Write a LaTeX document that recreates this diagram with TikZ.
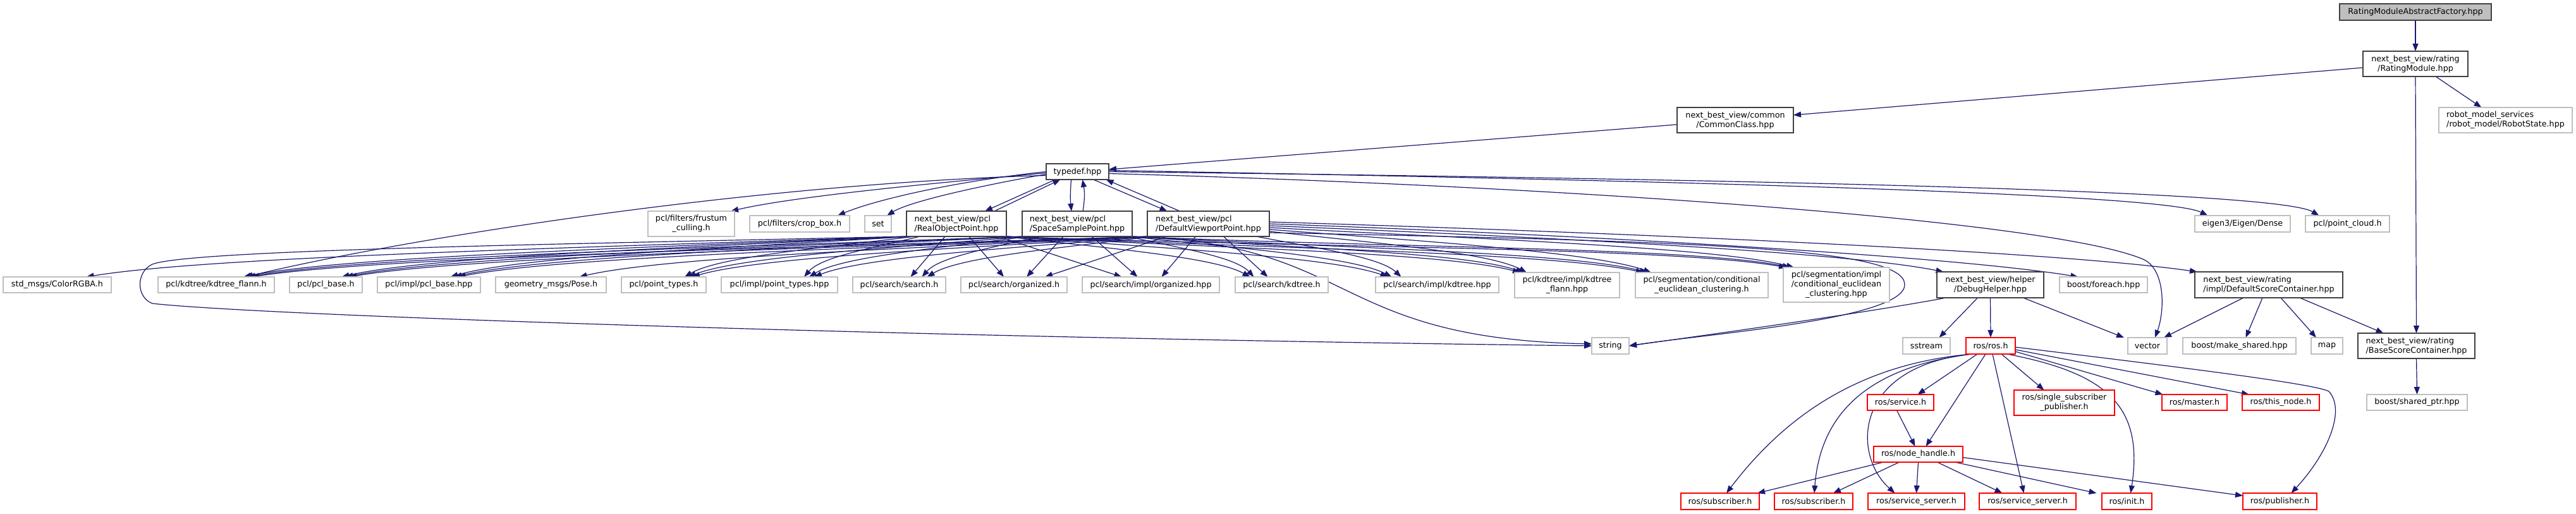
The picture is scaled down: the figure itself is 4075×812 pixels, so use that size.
\documentclass[tikz,border=0pt]{standalone}
\usepackage{fontspec}
\setmainfont{DejaVu Sans}
\usetikzlibrary{arrows.meta,calc}
\definecolor{edgec}{HTML}{191970}
\definecolor{extb}{HTML}{BFBFBF}
\definecolor{projb}{HTML}{404040}
\definecolor{redb}{HTML}{FF0000}
\pgfdeclarelayer{back}
\pgfdeclarelayer{edges}
\pgfsetlayers{back,edges,main}
\tikzset{
 box/.style={inner sep=0pt, outer sep=0pt, align=center, font=\fontsize{12.7}{15}\selectfont, line width=1.4pt},
 proj/.style={box, draw=projb, fill=white},
 ext/.style={box, draw=extb, fill=white},
 rosn/.style={box, draw=redb, fill=white},
 root/.style={box, draw=projb, fill=extb},
 edge/.style={draw=edgec, line width=1.2pt, -{Triangle[length=12pt,width=9pt]}},
}
\newcommand\mynode[7]{\node[#1, minimum width={#4-#2}, minimum height={#5-#3}] (#6) at ({(#2+#4)/2},{(#3+#5)/2}) {#7};}
\newcommand\mycurve[2]{\draw[edge] let \p1=#1, \p2=#2 in #1 .. controls ({\x1+0.4*(\x2-\x1)},{\y1-18pt}) and ({\x2-0.15*(\x2-\x1)},{\y2+32pt}) .. #2;}
\begin{document}
\begin{tikzpicture}[x=1pt,y=-1pt]
\begin{pgfonlayer}{back}
\fill[white] (0,0) rectangle (4075,812);
\end{pgfonlayer}
\useasboundingbox (0,0) rectangle (4075,812);
% top
\mynode{root}{3701}{6}{3941}{32}{fac}{RatingModuleAbstractFactory.hpp}
\mynode{proj}{3738}{81}{3904}{121}{rm}{next\_best\_view/rating\\/RatingModule.hpp}
\mynode{ext,align=left}{3858}{170}{4069}{210}{rs}{robot\_model\_services\\/robot\_model/RobotState.hpp}
\mynode{proj}{2653}{170}{2837}{210}{cc}{next\_best\_view/common\\/CommonClass.hpp}
\mynode{proj}{1655}{259}{1754}{284}{td}{typedef.hpp}
\mynode{proj,align=left}{1434}{334}{1592}{374}{R}{next\_best\_view/pcl\\/RealObjectPoint.hpp}
\mynode{proj,align=left}{1617}{334}{1791}{374}{S}{next\_best\_view/pcl\\/SpaceSamplePoint.hpp}
\mynode{proj,align=left}{1815}{334}{2008}{374}{D}{next\_best\_view/pcl\\/DefaultViewportPoint.hpp}
\mynode{ext}{1025}{334}{1162}{374}{fru}{pcl/filters/frustum\\\_culling.h}
\mynode{ext}{1186}{341}{1344}{367}{crop}{pcl/filters/crop\_box.h}
\mynode{ext}{1368}{341}{1410}{367}{set}{set}
\mynode{ext}{3472}{341}{3623}{367}{eig}{eigen3/Eigen/Dense}
\mynode{ext}{3647}{341}{3780}{367}{pcd}{pcl/point\_cloud.h}
% row 2
\mynode{ext}{5}{438}{176}{463}{std}{std\_msgs/ColorRGBA.h}
\mynode{ext}{250}{438}{434}{463}{kf}{pcl/kdtree/kdtree\_flann.h}
\mynode{ext}{458}{438}{573}{463}{pb}{pcl/pcl\_base.h}
\mynode{ext}{597}{438}{760}{463}{pbh}{pcl/impl/pcl\_base.hpp}
\mynode{ext}{784}{438}{959}{463}{pose}{geometry\_msgs/Pose.h}
\mynode{ext}{983}{438}{1117}{463}{pt}{pcl/point\_types.h}
\mynode{ext}{1141}{438}{1325}{463}{pth}{pcl/impl/point\_types.hpp}
\mynode{ext}{1349}{438}{1496}{463}{ss}{pcl/search/search.h}
\mynode{ext}{1520}{438}{1688}{463}{org}{pcl/search/organized.h}
\mynode{ext}{1712}{438}{1929}{463}{orgh}{pcl/search/impl/organized.hpp}
\mynode{ext}{1954}{438}{2101}{463}{kd}{pcl/search/kdtree.h}
\mynode{ext}{2176}{438}{2371}{463}{kdh}{pcl/search/impl/kdtree.hpp}
\mynode{ext}{2396}{431}{2562}{471}{kfh}{pcl/kdtree/impl/kdtree\\\_flann.hpp}
\mynode{ext}{2587}{431}{2797}{471}{ce}{pcl/segmentation/conditional\\\_euclidean\_clustering.h}
\mynode{ext}{2821}{423}{2989}{478}{ceh}{pcl/segmentation/impl\\/conditional\_euclidean\\\_clustering.hpp}
\mynode{proj}{3064}{430}{3233}{471}{dh}{next\_best\_view/helper\\/DebugHelper.hpp}
\mynode{ext}{3258}{438}{3397}{463}{fe}{boost/foreach.hpp}
\mynode{proj,align=left}{3472}{430}{3706}{471}{dsc}{next\_best\_view/rating\\/impl/DefaultScoreContainer.hpp}
% row 3
\mynode{ext}{2518}{534}{2577}{560}{str}{string}
\mynode{ext}{3010}{534}{3085}{560}{sst}{sstream}
\mynode{rosn}{3110}{534}{3188}{560}{ros}{ros/ros.h}
\mynode{ext}{3366}{534}{3428}{560}{vec}{vector}
\mynode{ext}{3453}{534}{3632}{560}{mks}{boost/make\_shared.hpp}
\mynode{ext}{3656}{534}{3706}{560}{map}{map}
\mynode{proj,align=left}{3730}{527}{3915}{567}{bsc}{next\_best\_view/rating\\/BaseScoreContainer.hpp}
% row 4
\mynode{rosn}{2954}{624}{3059}{649}{srv}{ros/service.h}
\mynode{rosn}{3186}{617}{3345}{657}{ssp}{ros/single\_subscriber\\\_publisher.h}
\mynode{rosn}{3420}{624}{3523}{649}{mst}{ros/master.h}
\mynode{rosn}{3547}{624}{3669}{649}{tn}{ros/this\_node.h}
\mynode{ext}{3744}{624}{3903}{649}{sp}{boost/shared\_ptr.hpp}
\mynode{rosn}{2964}{706}{3105}{731}{nh}{ros/node\_handle.h}
% row 5
\mynode{rosn}{2659}{780}{2783}{806}{subA}{ros/subscriber.h}
\mynode{rosn}{2807}{780}{2931}{806}{subB}{ros/subscriber.h}
\mynode{rosn}{2955}{780}{3108}{806}{svsA}{ros/service\_server.h}
\mynode{rosn}{3131}{780}{3284}{806}{svsB}{ros/service\_server.h}
\mynode{rosn}{3325}{780}{3404}{806}{ini}{ros/init.h}
\mynode{rosn}{3548}{780}{3665}{806}{pub}{ros/publisher.h}

\begin{pgfonlayer}{edges}
% top
\draw[edge] (fac.south) -- (rm.north);
\draw[edge] ([yshift=-6pt]rm.west) -- ([yshift=8pt]cc.east);
\draw[edge] ([xshift=32pt]rm.south) -- ([xshift=-38pt]rs.north);
\draw[edge] (rm.south) -- (bsc.north);
\draw[edge] ([yshift=-7pt]cc.west) -- ([yshift=3.5pt]td.east);
% typedef
\draw[edge] ([yshift=-6pt]td.west) .. controls (1200,290) and (650,375) .. ([xshift=46pt]kf.north);
\draw[edge] ([yshift=-2pt]td.west) .. controls (1450,292) and (1250,312) .. ([xshift=-6pt]fru.north east);
\draw[edge] (td.west) .. controls (1500,288) and (1380,318) .. ([xshift=60pt]crop.north);
\draw[edge] ([yshift=-4pt]td.west) .. controls (1560,292) and (1440,318) .. ([xshift=14pt]set.north);
\draw[edge] ([xshift=-35pt]td.south) -- ([xshift=45pt]R.north);
\draw[edge] ([xshift=60pt]R.north) -- ([xshift=-27pt]td.south);
\draw[edge] ([xshift=-10pt]td.south) .. controls (1693,305) and (1693,315) .. ([xshift=-9pt]S.north);
\draw[edge] ([xshift=9pt]S.north) .. controls (1716,315) and (1716,305) .. ([xshift=8pt]td.south);
\draw[edge] ([xshift=25pt]td.south) -- ([xshift=-65pt]D.north);
\draw[edge] ([xshift=-45pt]D.north) -- ([xshift=45pt]td.south);
\draw[edge] ([yshift=2pt]td.east) .. controls (2600,285) and (3420,305) .. ([xshift=-55pt]eig.north);
\draw[edge] (td.east) .. controls (2700,283) and (3600,300) .. ([xshift=-45pt]pcd.north);
\draw[edge] ([yshift=-3pt]td.east) .. controls (2500,295) and (3250,350) .. (3390,410) .. controls (3425,425) and (3425,490) .. ([xshift=12pt]vec.north);
% RealObjectPoint
\mycurve{([xshift=-78pt]R.south)}{([xshift=46pt]std.north)}
\mycurve{([xshift=-76pt]R.south)}{([xshift=43pt]kf.north)}
\mycurve{([xshift=-73pt]R.south)}{([xshift=25pt]pb.north)}
\mycurve{([xshift=-70pt]R.south)}{([xshift=34pt]pbh.north)}
\mycurve{([xshift=-66pt]R.south)}{([xshift=33pt]pt.north)}
\mycurve{([xshift=-58pt]R.south)}{([xshift=39pt]pth.north)}
\draw[edge] ([xshift=-18pt]R.south) -- ([xshift=18pt]ss.north);
\draw[edge] ([xshift=20pt]R.south) -- ([xshift=-16pt]org.north);
\draw[edge] ([xshift=66pt]R.south) -- ([xshift=-46pt]orgh.north);
\mycurve{([xshift=76pt]R.south)}{([xshift=-50pt]kd.north)}
\mycurve{([xshift=77pt]R.south)}{([xshift=-78pt]kdh.north)}
\mycurve{([xshift=78pt]R.south)}{([xshift=-74pt]kfh.north)}
\mycurve{([xshift=78pt]R.south)}{([xshift=-92pt]ce.north)}
\mycurve{([xshift=78pt]R.south)}{([xshift=-79pt]ceh.north)}
\draw[edge] ([xshift=-79pt]R.south) .. controls (900,386) and (300,395) .. (241,418) .. controls (215,430) and (215,470) .. (241,480) .. controls (420,500) and (1500,535) .. (str.west);
% SpaceSamplePoint
\mycurve{([xshift=-86pt]S.south)}{([xshift=50pt]kf.north)}
\mycurve{([xshift=-84pt]S.south)}{([xshift=31pt]pb.north)}
\mycurve{([xshift=-82pt]S.south)}{([xshift=40pt]pbh.north)}
\mycurve{([xshift=-80pt]S.south)}{([xshift=39pt]pt.north)}
\mycurve{([xshift=-77pt]S.south)}{([xshift=47pt]pth.north)}
\mycurve{([xshift=-60pt]S.south)}{([xshift=36pt]ss.north)}
\draw[edge] ([xshift=-22pt]S.south) -- ([xshift=20pt]org.north);
\draw[edge] ([xshift=23pt]S.south) -- ([xshift=-21pt]orgh.north);
\mycurve{([xshift=80pt]S.south)}{([xshift=-44pt]kd.north)}
\mycurve{([xshift=82pt]S.south)}{([xshift=-72pt]kdh.north)}
\mycurve{([xshift=84pt]S.south)}{([xshift=-69pt]kfh.north)}
\mycurve{([xshift=85pt]S.south)}{([xshift=-86pt]ce.north)}
\mycurve{([xshift=86pt]S.south)}{([xshift=-73pt]ceh.north)}
\draw[edge] ([xshift=84pt]S.south) .. controls (2150,385) and (2100,535) .. ([yshift=3pt]str.west);
% DefaultViewportPoint
\mycurve{([xshift=-95pt]D.south)}{([xshift=56pt]kf.north)}
\mycurve{([xshift=-94pt]D.south)}{([xshift=37pt]pb.north)}
\mycurve{([xshift=-93pt]D.south)}{([xshift=46pt]pbh.north)}
\mycurve{([xshift=-92pt]D.south)}{([xshift=45pt]pose.north)}
\mycurve{([xshift=-91pt]D.south)}{([xshift=45pt]pt.north)}
\mycurve{([xshift=-90pt]D.south)}{([xshift=55pt]pth.north)}
\mycurve{([xshift=-88pt]D.south)}{([xshift=44pt]ss.north)}
\draw[edge] ([xshift=-66pt]D.south) -- ([xshift=49pt]org.north);
\draw[edge] ([xshift=-20pt]D.south) -- ([xshift=17pt]orgh.north);
\draw[edge] ([xshift=24pt]D.south) -- ([xshift=-22pt]kd.north);
\mycurve{([xshift=76pt]D.south)}{([xshift=-57pt]kdh.north)}
\mycurve{([yshift=-12pt]D.east)}{([xshift=-64pt]kfh.north)}
\mycurve{([yshift=-9pt]D.east)}{([xshift=-80pt]ce.north)}
\mycurve{([yshift=-6pt]D.east)}{([xshift=-67pt]ceh.north)}
\mycurve{([yshift=-3pt]D.east)}{([xshift=-74pt]dh.north)}
\mycurve{(D.east)}{([xshift=-40pt]fe.north)}
\mycurve{([yshift=3pt]D.east)}{([xshift=4pt]dsc.north west)}
\draw[edge] ([yshift=-14pt]D.east) .. controls (2700,382) and (3012,392) .. (3013,450) .. controls (3014,505) and (2700,528) .. (str.east);
% DebugHelper
\draw[edge] ([xshift=-70pt]dh.south) .. controls (2950,495) and (2700,530) .. (str.east);
\draw[edge] ([xshift=-20pt]dh.south) -- ([xshift=20pt]sst.north);
\draw[edge] (dh.south) -- (ros.north);
\draw[edge] ([xshift=52pt]dh.south) -- ([xshift=-37pt]vec.north);
% DefaultScoreContainer
\draw[edge] ([xshift=-40pt]dsc.south) -- ([xshift=26pt]vec.north);
\draw[edge] ([xshift=-10pt]dsc.south) -- ([xshift=10pt]mks.north);
\draw[edge] ([xshift=19pt]dsc.south) -- ([xshift=-17pt]map.north);
\draw[edge] ([xshift=49pt]dsc.south) -- ([xshift=-52pt]bsc.north);
\draw[edge] (bsc.south) -- (sp.north);
% ros.h
\draw[edge] ([xshift=-21pt]ros.south) -- ([xshift=27pt]srv.north);
\draw[edge] ([xshift=-8pt]ros.south) -- ([xshift=12pt]nh.north);
\draw[edge] ([xshift=3pt]ros.south) -- ([xshift=-6pt]svsB.north);
\draw[edge] ([xshift=17pt]ros.south) -- ([xshift=-32pt]ssp.north);
\draw[edge] ([xshift=26pt]ros.south) .. controls (3330,590) and (3392,640) .. ([xshift=6pt]ini.north);
\draw[edge] ([yshift=-9pt]ros.east) -- ([xshift=-50pt]mst.north);
\draw[edge] ([yshift=-6pt]ros.east) -- ([xshift=-50pt]tn.north);
\draw[edge] ([yshift=-2pt]ros.east) .. controls (3400,575) and (3660,606) .. (3684,619) .. controls (3712,650) and (3680,720) .. ([xshift=18pt]pub.north);
\draw[edge] ([xshift=-30pt]ros.south) .. controls (2950,575) and (2830,650) .. ([xshift=10pt]subA.north);
\draw[edge] ([xshift=-30pt]ros.south) .. controls (2960,580) and (2880,650) .. ([xshift=1pt]subB.north);
\draw[edge] ([xshift=-30pt]ros.south) .. controls (2930,580) and (2930,720) .. ([xshift=-34pt]svsA.north);
% service.h, node_handle.h
\draw[edge] ([xshift=-6pt]srv.south) -- ([xshift=-5pt]nh.north);
\draw[edge] ([xshift=-55pt]nh.south) -- ([xshift=59pt]subA.north);
\draw[edge] ([xshift=-30pt]nh.south) -- ([xshift=31pt]subB.north);
\draw[edge] (nh.south) -- (svsA.north);
\draw[edge] ([xshift=30pt]nh.south) -- ([xshift=-40pt]svsB.north);
\draw[edge] ([xshift=58pt]nh.south) -- ([xshift=-48pt]ini.north);
\draw[edge] ([yshift=-5pt]nh.east) -- ([yshift=-4pt]pub.north west);
\end{pgfonlayer}
\end{tikzpicture}
\end{document}
